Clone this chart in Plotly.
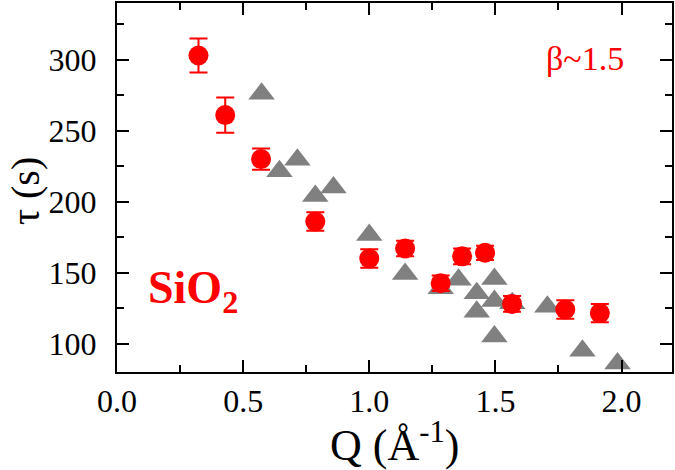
import plotly.graph_objects as go

# Red circles (SiO2, beta~1.5)
red_q = [0.323, 0.429, 0.571, 0.786, 1.000, 1.142, 1.283, 1.368, 1.459, 1.566, 1.777, 1.914]
red_tau = [303, 261, 230, 186, 160, 167, 142.5, 161.5, 164, 128, 124, 121.5]
red_err = [12, 12.5, 7.5, 6.5, 6.5, 5.5, 5.5, 5.5, 5, 5.5, 6.5, 6.5]

# Gray triangles
tri_q = [0.573, 0.644, 0.715, 0.786, 0.858, 1.000, 1.142, 1.283, 1.354, 1.426, 1.426,
         1.496, 1.496, 1.496, 1.567, 1.706, 1.845, 1.984]
tri_tau = [276, 221.5, 229.5, 204, 210, 176.5, 149, 139, 145, 135.5, 122.5,
           145.5, 130, 105, 128.5, 126, 95, 86]

x_ticks = [0.0, 0.5, 1.0, 1.5, 2.0]
x_ticklabels = ["0.0", "0.5", "1.0", "1.5", "2.0"]
y_ticks = [100, 150, 200, 250, 300]
y_ticklabels = ["100", "150", "200", "250", "300"]

FONT = "Liberation Serif, Times New Roman, serif"

fig = go.Figure()
fig.add_trace(go.Scatter(
    x=tri_q, y=tri_tau, mode="markers",
    marker=dict(symbol="triangle-up", size=23, color="#808080", line=dict(width=0)),
    showlegend=False,
))
fig.add_trace(go.Scatter(
    x=red_q, y=red_tau, mode="markers",
    marker=dict(symbol="circle", size=20, color="#ff0000", line=dict(width=0)),
    error_y=dict(type="data", array=red_err, visible=True, color="#ff0000",
                 thickness=2, width=9),
    showlegend=False,
))

axis_common = dict(
    showline=True, linecolor="black", linewidth=2, mirror="allticks",
    ticks="inside", ticklen=12, tickwidth=2, tickcolor="black",
    showgrid=False, zeroline=False,
    tickfont=dict(family=FONT, size=32, color="black"),
)

fig.update_xaxes(
    range=[0, 2.2], tickmode="array", tickvals=x_ticks, ticktext=x_ticklabels,
    minor=dict(ticks="inside", ticklen=7, tickwidth=2, tickcolor="black", dtick=0.25, showgrid=False),
    ticklabelstandoff=0,
    **axis_common,
)
fig.update_yaxes(
    range=[80, 340], tickmode="array", tickvals=y_ticks, ticktext=y_ticklabels,
    minor=dict(ticks="inside", ticklen=7, tickwidth=2, tickcolor="black", dtick=25, tick0=0, showgrid=False),
    ticklabelstandoff=12,
    **axis_common,
)

# Axis titles as annotations for precise placement
fig.add_annotation(x=0.5, y=-0.19, xref="paper", yref="paper", text="Q (Å<sup>-1</sup>)",
                   showarrow=False, font=dict(family=FONT, size=44, color="black"),
                   xanchor="center", yanchor="middle")
fig.add_annotation(x=-0.166, y=0.49, xref="paper", yref="paper", text="τ (s)", textangle=-90,
                   showarrow=False, font=dict(family=FONT, size=40, color="black"),
                   xanchor="center", yanchor="middle")

fig.add_annotation(x=0.137, y=0.22, xref="paper", yref="paper", text="<b>SiO<sub>2</sub></b>",
                   showarrow=False, font=dict(family=FONT, size=46, color="#ff0000"),
                   xanchor="center", yanchor="middle")
fig.add_annotation(x=0.843, y=0.85, xref="paper", yref="paper", text="β~1.5",
                   showarrow=False, font=dict(family=FONT, size=34, color="#ff0000"),
                   xanchor="center", yanchor="middle")

fig.update_layout(
    width=675, height=470,
    margin=dict(l=117, r=3, t=3, b=98, autoexpand=False),
    paper_bgcolor="white", plot_bgcolor="white",
)

fig.write_html("out.html", config={"displayModeBar": False},
               post_script="document.body.style.margin='0';document.body.style.padding='0';")
